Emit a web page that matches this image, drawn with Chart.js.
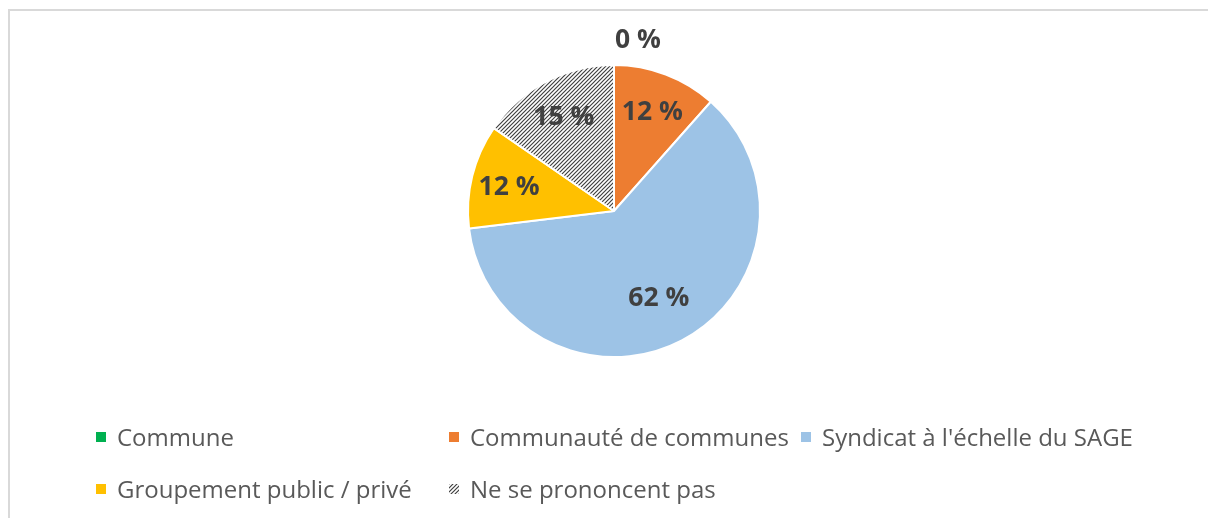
<!DOCTYPE html>
<html>
<head>
<meta charset="utf-8">
<script src="https://cdn.jsdelivr.net/npm/chart.js@4.4.0/dist/chart.umd.min.js"></script>
<style>
  html, body { margin: 0; padding: 0; background: #fff; }
  #wrap { position: relative; width: 1208px; height: 518px; overflow: hidden; }
  #frame { position: absolute; left: 8px; top: 9px; width: 1300px; height: 600px; border: 2px solid #d9d9d9; box-sizing: border-box; }
  #pie { position: absolute; left: 0; top: 0; }
  .leg { position: absolute; font-family: "Open Sans", sans-serif; font-size: 24px; color: #595959; white-space: nowrap; line-height: 28px; }
  .leg canvas { position: absolute; left: -21px; top: 9px; }
</style>
</head>
<body>
<div id="wrap">
  <div id="frame"></div>
  <canvas id="pie" width="1208" height="518"></canvas>
</div>
<script>
// données
const labels = ['Commune', 'Communauté de communes', "Syndicat à l'échelle du SAGE", 'Groupement public / privé', 'Ne se prononcent pas'];
const values = [0, 3, 16, 3, 4];
const colors = ['#00b050', '#ed7d31', '#9dc3e6', '#ffc000', 'hatch'];

// motif hachuré pour "Ne se prononcent pas"
function hatchPattern(ctx) {
  const c = document.createElement('canvas');
  c.width = 4; c.height = 4;
  const g = c.getContext('2d');
  g.fillStyle = '#ffffff';
  g.fillRect(0, 0, 4, 4);
  g.strokeStyle = '#404040';
  g.lineWidth = 1.2;
  g.beginPath();
  g.moveTo(-1, 5); g.lineTo(5, -1);
  g.moveTo(-1, 1); g.lineTo(1, -1);
  g.moveTo(3, 5); g.lineTo(5, 3);
  g.stroke();
  return ctx.createPattern(c, 'repeat');
}

const ctx = document.getElementById('pie').getContext('2d');
const fills = colors.map(c => c === 'hatch' ? hatchPattern(ctx) : c);

// étiquettes de pourcentage
const pctLabels = {
  id: 'pctLabels',
  afterDatasetsDraw(chart) {
    const c = chart.ctx;
    const total = values.reduce((a, b) => a + b, 0);
    const arcs = chart.getDatasetMeta(0).data;
    c.save();
    c.font = 'bold 26.5px "Open Sans", sans-serif';
    c.fillStyle = '#404040';
    c.textBaseline = 'middle';
    arcs.forEach((arc, i) => {
      const p = arc.getProps(['x', 'y', 'startAngle', 'endAngle', 'outerRadius'], true);
      const txt = Math.round(values[i] / total * 100) + ' %';
      if (values[i] === 0) {
        c.textAlign = 'left';
        c.fillText(txt, p.x + 1, p.y - p.outerRadius - 25);
        return;
      }
      const a = (p.startAngle + p.endAngle) / 2;
      const r = p.outerRadius * (values[i] / total > 0.5 ? 0.66 : 0.74);
      c.textAlign = 'center';
      c.fillText(txt, p.x + Math.cos(a) * r, p.y + Math.sin(a) * r + 2);
    });
    c.restore();
  }
};

new Chart(ctx, {
  type: 'pie',
  data: {
    labels: labels,
    datasets: [{
      data: values,
      backgroundColor: fills,
      borderColor: '#ffffff',
      borderWidth: 2
    }]
  },
  options: {
    responsive: false,
    animation: false,
    layout: { padding: { top: 64, bottom: 160, left: 20, right: 0 } },
    plugins: {
      legend: { display: false },
      tooltip: { enabled: false }
    }
  },
  plugins: [pctLabels]
});

// légende (colonnes comme dans l'original)
const legPos = [[117, 423], [470, 423], [822, 423], [117, 475], [470, 475]];
const wrap = document.getElementById('wrap');
labels.forEach((l, i) => {
  const d = document.createElement('div');
  d.className = 'leg';
  d.style.left = legPos[i][0] + 'px';
  d.style.top = legPos[i][1] + 'px';
  d.textContent = l;
  const b = document.createElement('canvas');
  b.width = 10; b.height = 10;
  const bc = b.getContext('2d');
  bc.fillStyle = colors[i] === 'hatch' ? hatchPattern(bc) : colors[i];
  bc.fillRect(0, 0, 10, 10);
  d.appendChild(b);
  wrap.appendChild(d);
});
</script>
</body>
</html>
